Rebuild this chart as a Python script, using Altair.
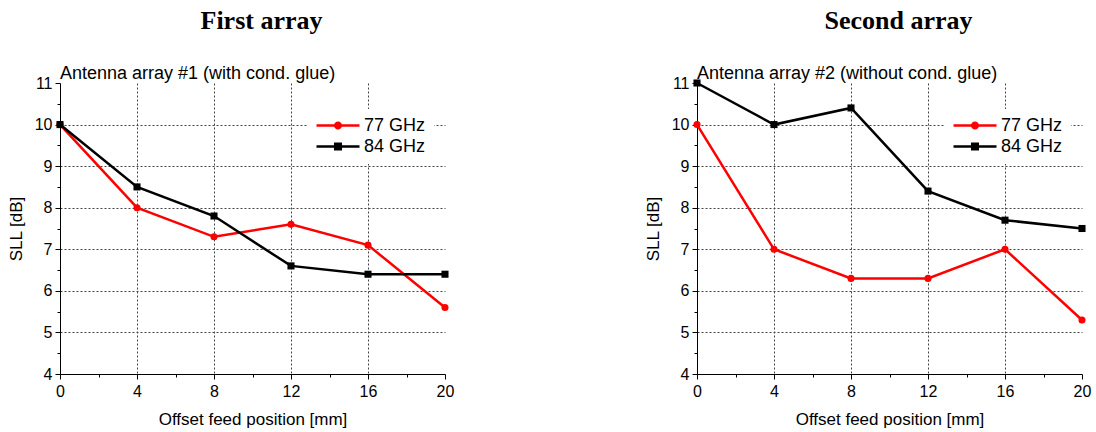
import altair as alt
import pandas as pd

# ---------------- data ----------------
x_vals = [0, 4, 8, 12, 16, 20]
series_names = ["77 GHz", "84 GHz"]
series_colors = ["#ff0000", "#000000"]

panel_titles = ["First array", "Second array"]
panel_subtitles = ["Antenna array #1 (with cond. glue)",
                   "Antenna array #2 (without cond. glue)"]

arr1_77 = [10, 8, 7.3, 7.6, 7.1, 5.6]
arr1_84 = [10, 8.5, 7.8, 6.6, 6.4, 6.4]
arr2_77 = [10, 7, 6.3, 6.3, 7, 5.3]
arr2_84 = [11, 10, 10.4, 8.4, 7.7, 7.5]

x_ticks = [0, 2, 4, 6, 8, 10, 12, 14, 16, 18, 20]
y_ticks = [4, 4.5, 5, 5.5, 6, 6.5, 7, 7.5, 8, 8.5, 9, 9.5, 10, 10.5, 11]

# ---------------- style ----------------
SANS = "Liberation Sans"
SERIF = "Liberation Serif"

marker_shapes = ["circle", "square"]
legend_shapes = [
    "M-1,0L1,0M0.13,0A0.13,0.13 0 1,1 -0.13,0A0.13,0.13 0 1,1 0.13,0Z",
    "M-1,0L1,0M-0.13,-0.13L0.13,-0.13L0.13,0.13L-0.13,0.13Z",
]


def make_panel(idx, v77, v84):
    df = pd.DataFrame({
        "x": x_vals + x_vals,
        "y": v77 + v84,
        "series": [series_names[0]] * len(x_vals) + [series_names[1]] * len(x_vals),
    })

    x_axis = alt.Axis(
        values=x_ticks,
        labelExpr="datum.value % 4 == 0 ? format(datum.value, 'd') : ''",
        tickSize={"condition": {"test": "datum.value % 4 == 0", "value": 5}, "value": 3},
        grid=True,
        gridOpacity={"condition": {"test": "datum.value % 4 != 0 || datum.value == 0 || datum.value == 20",
                                   "value": 0}, "value": 1},
        title="Offset feed position [mm]",
        labelPadding=4,
        titlePadding=12,
        labelFlush=False,
        labelOverlap=False,
    )
    y_axis = alt.Axis(
        values=y_ticks,
        labelExpr="datum.value % 1 == 0 ? format(datum.value, 'd') : ''",
        tickSize={"condition": {"test": "datum.value % 1 == 0", "value": 5}, "value": 3},
        grid=True,
        gridOpacity={"condition": {"test": "datum.value % 1 != 0 || datum.value == 4 || datum.value == 11",
                                   "value": 0}, "value": 1},
        title="SLL [dB]",
        labelPadding=3,
        titlePadding=9,
        labelFlush=False,
        labelOverlap=False,
    )

    X = alt.X("x:Q", scale=alt.Scale(domain=[0, 20], nice=False, zero=False), axis=x_axis)
    Y = alt.Y("y:Q", scale=alt.Scale(domain=[4, 11], nice=False, zero=False), axis=y_axis)
    color = alt.Color("series:N", scale=alt.Scale(domain=series_names, range=series_colors), legend=None)

    base = alt.Chart(df)
    lines = base.mark_line(strokeWidth=2.5).encode(x=X, y=Y, color=color)
    points = base.mark_point(filled=True, size=50, opacity=1).encode(
        x=X, y=Y, color=color,
        shape=alt.Shape("series:N", scale=alt.Scale(domain=series_names, range=marker_shapes), legend=None),
    )

    leg = alt.Legend(
        title=None, orient="none", legendX=247, legendY=26,
        fillColor="white", padding=8,
        symbolSize=1849, symbolStrokeWidth=2.5, symbolOpacity=1,
        labelFont=SANS, labelFontSize=18, labelColor="black", labelOffset=3,
        clipHeight=17, rowPadding=2,
    )
    legend_layer = base.mark_point(filled=True, opacity=0).encode(
        x=X, y=Y,
        fill=alt.Fill("series:N", scale=alt.Scale(domain=series_names, range=series_colors), legend=leg),
        stroke=alt.Stroke("series:N", scale=alt.Scale(domain=series_names, range=series_colors), legend=leg),
        shape=alt.Shape("series:N", scale=alt.Scale(domain=series_names, range=legend_shapes), legend=leg),
    )

    sub = alt.Chart(pd.DataFrame({"t": [panel_subtitles[idx]]})).mark_text(
        align="left", baseline="alphabetic", font=SANS, fontSize=18, color="black"
    ).encode(x=alt.value(0), y=alt.value(-4), text="t:N")

    return alt.layer(lines, points, legend_layer, sub).resolve_scale(
        shape="independent", fill="independent", stroke="independent"
    ).properties(
        width=385, height=291,
        title=alt.TitleParams(panel_titles[idx], font=SERIF, fontSize=26, fontWeight="bold",
                              color="black", anchor="middle", frame="group", dx=9, offset=31),
    )


p1 = make_panel(0, arr1_77, arr1_84)
p2 = make_panel(1, arr2_77, arr2_84)

chart = alt.hconcat(p1, p2, spacing=190).properties(
    padding={"left": 7, "top": 8, "right": 2, "bottom": 2},
    background="white",
).configure_view(stroke=None).configure_axis(
    domainColor="black", domainWidth=1, tickColor="black", tickWidth=1,
    gridColor="#444444", gridDash=[2, 2], gridWidth=1,
    labelFont=SANS, labelFontSize=16, labelColor="black",
    titleFont=SANS, titleFontSize=17, titleFontWeight="normal", titleColor="black",
)

chart.save("out.html", embed_options={"renderer": "svg", "actions": False})
